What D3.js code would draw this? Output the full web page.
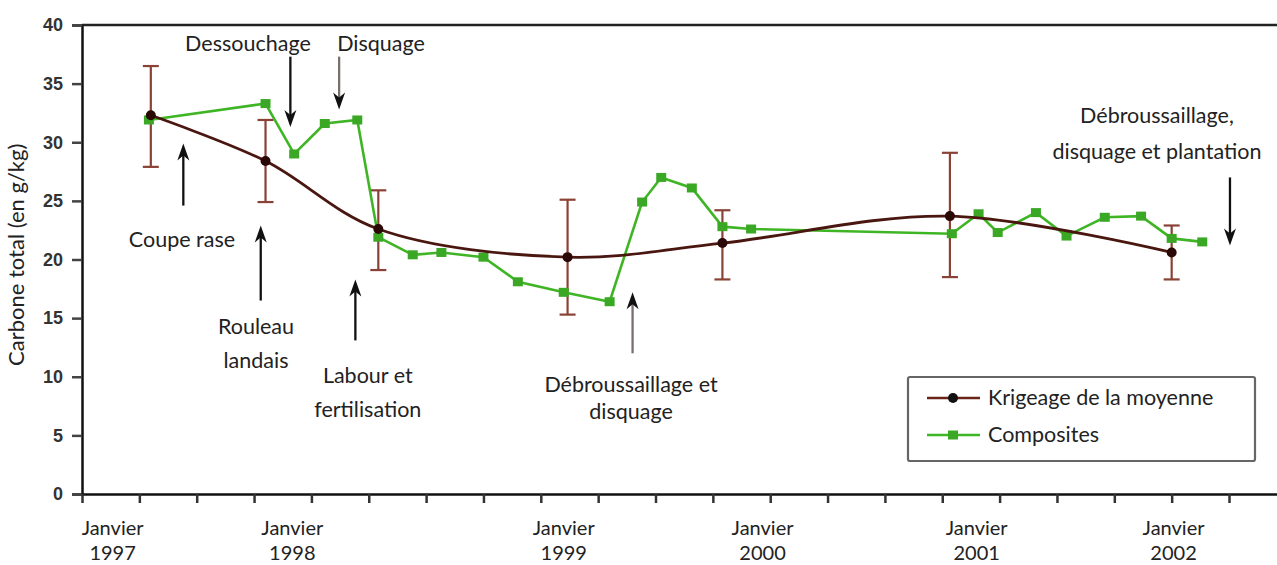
<!DOCTYPE html>
<html>
<head>
<meta charset="utf-8">
<script src="https://cdn.jsdelivr.net/npm/d3@7"></script>
<style>
  html, body { margin: 0; padding: 0; background: #fff; }
  svg { display: block; }
  .lbl { font-family: Lato, "Open Sans", sans-serif; fill: #222; }
</style>
</head>
<body>
<svg id="chart" width="1277" height="565"></svg>
<script>
// ---------- DATA (x in months from the first axis tick, y in g/kg) ----------
const krigeMonths = [3.6, 9.6, 15.5, 25.4, 33.5, 45.4, 57.0];
const krigeValues = [32.3, 28.4, 22.6, 20.2, 21.4, 23.7, 20.6];
const krigeErrLow  = [27.9, 24.9, 19.1, 15.3, 18.3, 18.5, 18.3];
const krigeErrHigh = [36.5, 31.9, 25.9, 25.1, 24.2, 29.1, 22.9];

const compMonths = [3.5, 9.6, 11.1, 12.7, 14.4, 15.5, 17.3, 18.8, 21.0, 22.8, 25.2, 27.6,
                    29.3, 30.3, 31.9, 33.5, 35.0, 45.5, 46.9, 47.9, 49.9, 51.5, 53.5, 55.4, 57.0, 58.6];
const compValues = [31.9, 33.3, 29.0, 31.6, 31.9, 21.9, 20.4, 20.6, 20.2, 18.1, 17.2, 16.4,
                    24.9, 27.0, 26.1, 22.8, 22.6, 22.2, 23.9, 22.3, 24.0, 22.0, 23.6, 23.7, 21.8, 21.5];

const yTicks = [0, 5, 10, 15, 20, 25, 30, 35, 40];
const xTickMonths = d3.range(0, 61, 3);
const xLabelMonths = [1.6, 11.0, 25.2, 35.6, 46.8, 57.1];
const xLabelYears = ["1997", "1998", "1999", "2000", "2001", "2002"];

const seriesNames = ["Krigeage de la moyenne", "Composites"];
const yTitle = "Carbone total (en g/kg)";

// annotations: arrow x (months), tail value, tip value, colour key; text lines, x centre (months), first-baseline value
const arrows = [
  {x: 5.3,  from: 24.6, to: 29.9, c: "k"},
  {x: 9.35, from: 16.5, to: 22.9, c: "k"},
  {x: 14.3, from: 13.1, to: 18.3, c: "k"},
  {x: 28.8, from: 12.0, to: 17.2, c: "g"},
  {x: 10.9, from: 37.3, to: 31.3, c: "k"},
  {x: 13.45, from: 37.3, to: 32.8, c: "g"},
  {x: 60.05, from: 27.0, to: 21.2, c: "k"}
];
const notes = [
  {x: 5.23,  v: 21.07, gap: 0,  lines: ["Coupe rase"]},
  {x: 9.1,   v: 13.65, gap: 34, lines: ["Rouleau", "landais"]},
  {x: 14.95, v: 9.47,  gap: 34, lines: ["Labour et", "fertilisation"]},
  {x: 28.72, v: 8.70,  gap: 27, lines: ["Débroussaillage et", "disquage"]},
  {x: 8.68,  v: 37.74, gap: 0,  lines: ["Dessouchage"]},
  {x: 15.64, v: 37.74, gap: 0,  lines: ["Disquage"]},
  {x: 56.23, v: 31.6,  gap: 36, lines: ["Débroussaillage,", "disquage et plantation"]}
];

// ---------- SCALES ----------
const svg = d3.select("#chart");
const x = d3.scaleLinear().domain([0, 62.51]).range([82, 1277]);
const y = d3.scaleLinear().domain([0, 40]).range([494, 25]);

// ---------- AXES ----------
const yAxis = d3.axisLeft(y).tickValues(yTicks).tickSize(10).tickPadding(9);
const gy = svg.append("g").attr("transform", `translate(${x(0)},0)`).call(yAxis);
gy.select(".domain").attr("stroke", "#111").attr("stroke-width", 2.5);
gy.selectAll(".tick line").attr("stroke", "#444").attr("stroke-width", 2.5);
gy.selectAll(".tick text")
  .attr("font-family", "'Liberation Sans', Arial, sans-serif")
  .attr("font-weight", "bold").attr("font-size", 18).attr("fill", "#333");

// top border line
svg.append("line").attr("x1", x(0)).attr("x2", x.range()[1])
  .attr("y1", y(40)).attr("y2", y(40)).attr("stroke", "#222").attr("stroke-width", 2.5);

const xAxis = d3.axisBottom(x).tickValues(xTickMonths).tickSize(9).tickSizeOuter(0).tickFormat("");
const gx = svg.append("g").attr("transform", `translate(0,${y(0)})`).call(xAxis);
gx.select(".domain").attr("stroke", "#111").attr("stroke-width", 2.5);
gx.selectAll(".tick line").attr("stroke", "#333").attr("stroke-width", 2.5);

const xl = svg.append("g").selectAll("text").data(xLabelMonths).join("text")
  .attr("class", "lbl").attr("text-anchor", "middle").attr("font-size", 20)
  .attr("x", d => x(d));
xl.append("tspan").attr("x", d => x(d)).attr("y", 535).text("Janvier");
xl.append("tspan").attr("x", d => x(d)).attr("y", 560).text((d, i) => xLabelYears[i]);

svg.append("text").attr("class", "lbl").attr("font-size", 22)
  .attr("text-anchor", "middle")
  .attr("transform", `translate(24,${y(20.4)}) rotate(-90)`)
  .text(yTitle);

// ---------- ANNOTATIONS ----------
const colour = {k: "#111", g: "#7a6e6e"};
const ag = svg.append("g");
arrows.forEach(a => {
  const x0 = x(a.x), y0 = y(a.from), y1 = y(a.to);
  const dir = y1 < y0 ? -1 : 1;
  const headLen = 17, headW = 6;
  ag.append("line").attr("x1", x0).attr("x2", x0).attr("y1", y0).attr("y2", y1 - dir * 8)
    .attr("stroke", colour[a.c]).attr("stroke-width", 2.3);
  ag.append("path")
    .attr("d", `M${x0},${y1} L${x0 - headW},${y1 - dir * headLen} L${x0},${y1 - dir * (headLen - 5)} L${x0 + headW},${y1 - dir * headLen} Z`)
    .attr("fill", "#111");
});
notes.forEach(n => {
  const t = svg.append("text").attr("class", "lbl").attr("font-size", 21.5).attr("text-anchor", "middle");
  n.lines.forEach((l, i) => t.append("tspan").attr("x", x(n.x)).attr("y", y(n.v) + i * n.gap).text(l));
});

// ---------- SERIES ----------
const krige = krigeMonths.map((m, i) => ({m, v: krigeValues[i], lo: krigeErrLow[i], hi: krigeErrHigh[i]}));
const comp = compMonths.map((m, i) => ({m, v: compValues[i]}));

// error bars
const eb = svg.append("g").attr("stroke", "#8a4236").attr("stroke-width", 2.2);
krige.forEach(d => {
  eb.append("line").attr("x1", x(d.m)).attr("x2", x(d.m)).attr("y1", y(d.lo)).attr("y2", y(d.hi));
  eb.append("line").attr("x1", x(d.m) - 8).attr("x2", x(d.m) + 8).attr("y1", y(d.lo)).attr("y2", y(d.lo));
  eb.append("line").attr("x1", x(d.m) - 8).attr("x2", x(d.m) + 8).attr("y1", y(d.hi)).attr("y2", y(d.hi));
});

// composites
svg.append("path").datum(comp)
  .attr("fill", "none").attr("stroke", "#3fb526").attr("stroke-width", 2.6)
  .attr("d", d3.line().x(d => x(d.m)).y(d => y(d.v)));
svg.append("g").selectAll("rect").data(comp).join("rect")
  .attr("x", d => x(d.m) - 5).attr("y", d => y(d.v) - 4.5)
  .attr("width", 10).attr("height", 9).attr("fill", "#3aa825");

// kriging
svg.append("path").datum(krige)
  .attr("fill", "none").attr("stroke", "#4a1710").attr("stroke-width", 2.8)
  .attr("d", d3.line().curve(d3.curveCatmullRom.alpha(0.5)).x(d => x(d.m)).y(d => y(d.v)));
svg.append("g").selectAll("circle").data(krige).join("circle")
  .attr("cx", d => x(d.m)).attr("cy", d => y(d.v)).attr("r", 5).attr("fill", "#2a0805");

// ---------- LEGEND ----------
const lg = svg.append("g");
lg.append("rect").attr("x", 908).attr("y", 377).attr("width", 347).attr("height", 84)
  .attr("fill", "#fff").attr("stroke", "#666").attr("stroke-width", 2.2).attr("rx", 2);
lg.append("line").attr("x1", 927).attr("x2", 980).attr("y1", 398).attr("y2", 398)
  .attr("stroke", "#6a2418").attr("stroke-width", 2.6);
lg.append("circle").attr("cx", 953).attr("cy", 398).attr("r", 5).attr("fill", "#111");
lg.append("line").attr("x1", 927).attr("x2", 980).attr("y1", 435).attr("y2", 435)
  .attr("stroke", "#3fb526").attr("stroke-width", 2.6);
lg.append("rect").attr("x", 948).attr("y", 430.5).attr("width", 10).attr("height", 9).attr("fill", "#3aa825");
lg.selectAll("text.leg").data(seriesNames).join("text")
  .attr("class", "lbl leg").attr("font-size", 21.5)
  .attr("x", 988).attr("y", (d, i) => 405 + i * 37).text(d => d);
</script>
</body>
</html>
